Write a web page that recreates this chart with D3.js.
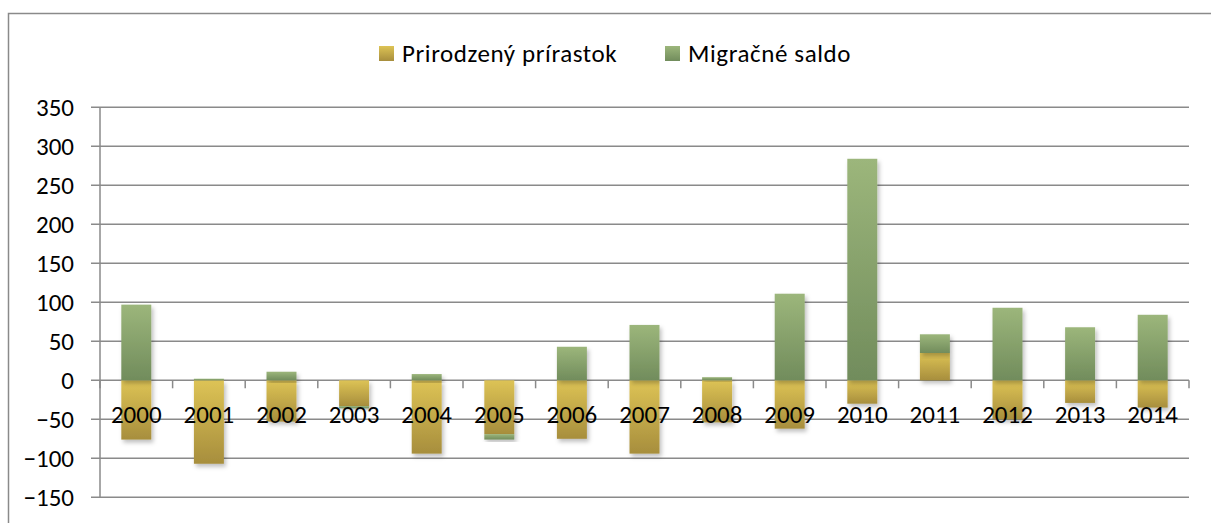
<!DOCTYPE html>
<html>
<head>
<meta charset="utf-8">
<script src="https://cdn.jsdelivr.net/npm/d3@7"></script>
<style>
  body { margin: 0; background: #fff; }
  svg text { font-family: Carlito, Lato, "Liberation Sans", sans-serif; fill: #000; }
</style>
</head>
<body>
<svg id="chart" width="1211" height="523"></svg>
<script>
// data
var years = ["2000","2001","2002","2003","2004","2005","2006","2007","2008","2009","2010","2011","2012","2013","2014"];
var prirodzeny = [-76, -107, -53, -33, -94, -69, -75, -94, -54, -62, -30, 35, -50, -29, -35];
var migracne   = [97, 2, 11, -3, 8, -7, 43, 71, 4, 111, 284, 24, 93, 68, 84];
var seriesNames = ["Prirodzený prírastok", "Migračné saldo"];
var yTicks = [-150, -100, -50, 0, 50, 100, 150, 200, 250, 300, 350];

var svg = d3.select("#chart");
var gridColor = "#8a8a8a";
var fontSize = 25;

var rows = years.map(function(y, i){
  return { year: y, nat: prirodzeny[i], mig: migracne[i] };
});

var x = d3.scaleBand().domain(years).range([100, 1189]).padding(0);
var y = d3.scaleLinear().domain([-150, 350]).range([497.3, 107.3]);
var barW = x.bandwidth() * 0.413;

// gradients + shadow
var defs = svg.append("defs");
var grads = [
  { id: "gNat", top: "#ddc355", bottom: "#a78e3d" },
  { id: "gMig", top: "#9cb67b", bottom: "#718c5c" }
];
grads.forEach(function(g){
  var lg = defs.append("linearGradient").attr("id", g.id)
    .attr("x1", 0).attr("y1", 0).attr("x2", 0).attr("y2", 1);
  lg.append("stop").attr("offset", "0%").attr("stop-color", g.top);
  lg.append("stop").attr("offset", "100%").attr("stop-color", g.bottom);
});
var f = defs.append("filter").attr("id", "shadow")
  .attr("x", "-20%").attr("y", "-20%").attr("width", "150%").attr("height", "150%");
f.append("feDropShadow").attr("dx", 2).attr("dy", 3).attr("stdDeviation", 2)
  .attr("flood-color", "#000").attr("flood-opacity", 0.25);

// outer frame (only top and left are in view)
svg.append("path")
  .attr("d", "M8.5,523 L8.5,13.5 L1211,13.5")
  .attr("fill", "none").attr("stroke", gridColor).attr("stroke-width", 1.5);

// gridlines
svg.append("g").selectAll("line").data(yTicks).enter().append("line")
  .attr("x1", 91).attr("x2", 1189)
  .attr("y1", function(d){ return y(d); }).attr("y2", function(d){ return y(d); })
  .attr("stroke", gridColor).attr("stroke-width", 1.5);

// vertical axis line
svg.append("line")
  .attr("x1", 100).attr("x2", 100).attr("y1", y(350)).attr("y2", y(-150))
  .attr("stroke", gridColor).attr("stroke-width", 1.5);

// y labels
var yAxis = svg.append("g").attr("transform", "translate(100,0)")
  .call(d3.axisLeft(y).tickValues(yTicks).tickSize(0).tickPadding(26));
yAxis.select(".domain").remove();
yAxis.selectAll("text").attr("font-size", fontSize).attr("dy", "0.32em")
  .style("font-family", "Carlito, Lato, 'Liberation Sans', sans-serif");

// stacked bars
var stack = d3.stack().keys(["nat", "mig"]).offset(d3.stackOffsetDiverging);
var layers = stack(rows);
var fills = ["url(#gNat)", "url(#gMig)"];

svg.append("g").selectAll("g").data(layers).enter().append("g")
  .attr("fill", function(d, i){ return fills[i]; })
  .selectAll("rect").data(function(d){ return d; }).enter().append("rect")
    .attr("x", function(d){ return x(d.data.year) + (x.bandwidth() - barW) / 2; })
    .attr("width", barW)
    .attr("y", function(d){ return y(Math.max(d[0], d[1])); })
    .attr("height", function(d){ return Math.abs(y(d[0]) - y(d[1])); })
    .attr("filter", "url(#shadow)");

// tick marks under zero line
var bounds = years.map(function(d){ return x(d); }).concat([1189]);
svg.append("g").selectAll("line").data(bounds).enter().append("line")
  .attr("x1", function(d){ return d; }).attr("x2", function(d){ return d; })
  .attr("y1", y(0)).attr("y2", y(0) + 8)
  .attr("stroke", gridColor).attr("stroke-width", 1.5);

// category labels
svg.append("g").selectAll("text").data(years).enter().append("text")
  .attr("x", function(d){ return x(d) + x.bandwidth() / 2; })
  .attr("y", 423)
  .attr("text-anchor", "middle")
  .attr("font-size", fontSize)
  .text(function(d){ return d; });

// legend
var legend = [
  { name: seriesNames[0], fill: fills[0], x: 379 },
  { name: seriesNames[1], fill: fills[1], x: 665 }
];
var lg = svg.append("g").selectAll("g").data(legend).enter().append("g")
  .attr("transform", function(d){ return "translate(" + d.x + ",46)"; });
lg.append("rect").attr("width", 15).attr("height", 15).attr("fill", function(d){ return d.fill; });
lg.append("text").attr("x", 23).attr("y", 16).attr("font-size", fontSize)
  .attr("letter-spacing", 0.6)
  .text(function(d){ return d.name; });
</script>
</body>
</html>
